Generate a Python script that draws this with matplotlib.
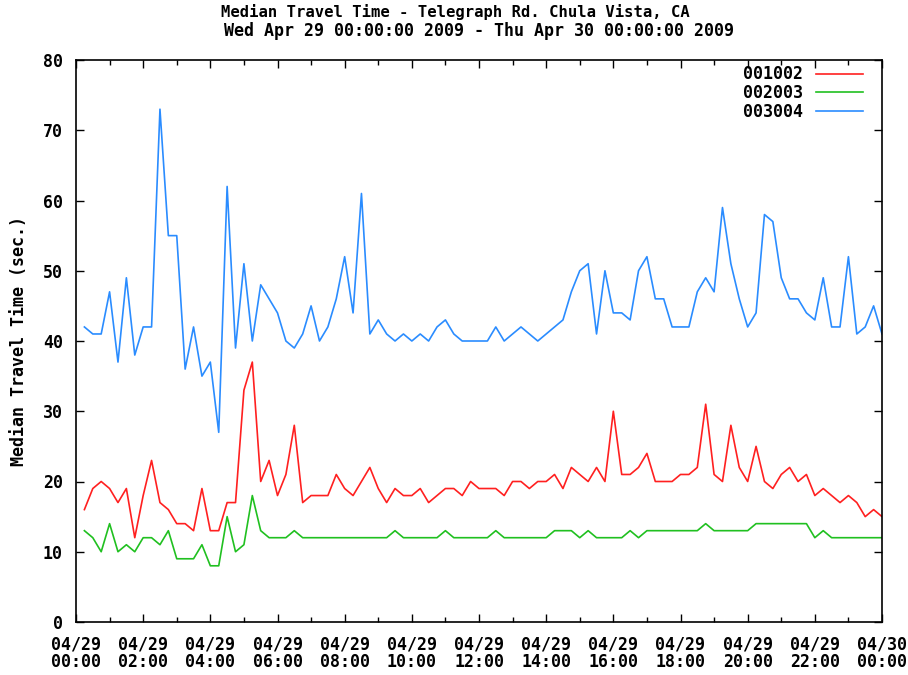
import matplotlib
matplotlib.use("Agg")
import matplotlib.pyplot as plt
import matplotlib.dates as mdates
import pandas as pd

# 15 minute medians for Apr 29, 00:15 .. 24:00
times = pd.date_range("2009-04-29 00:15", periods=96, freq="15min")

seg_001002 = [16, 19, 20, 19, 17, 19, 12, 18, 23, 17, 16, 14, 14, 13, 19, 13,
              13, 17, 17, 33, 37, 20, 23, 18, 21, 28, 17, 18, 18, 18, 21, 19,
              18, 20, 22, 19, 17, 19, 18, 18, 19, 17, 18, 19, 19, 18, 20, 19,
              19, 19, 18, 20, 20, 19, 20, 20, 21, 19, 22, 21, 20, 22, 20, 30,
              21, 21, 22, 24, 20, 20, 20, 21, 21, 22, 31, 21, 20, 28, 22, 20,
              25, 20, 19, 21, 22, 20, 21, 18, 19, 18, 17, 18, 17, 15, 16, 15]

seg_002003 = [13, 12, 10, 14, 10, 11, 10, 12, 12, 11, 13, 9, 9, 9, 11, 8,
              8, 15, 10, 11, 18, 13, 12, 12, 12, 13, 12, 12, 12, 12, 12, 12,
              12, 12, 12, 12, 12, 13, 12, 12, 12, 12, 12, 13, 12, 12, 12, 12,
              12, 13, 12, 12, 12, 12, 12, 12, 13, 13, 13, 12, 13, 12, 12, 12,
              12, 13, 12, 13, 13, 13, 13, 13, 13, 13, 14, 13, 13, 13, 13, 13,
              14, 14, 14, 14, 14, 14, 14, 12, 13, 12, 12, 12, 12, 12, 12, 12]

seg_003004 = [42, 41, 41, 47, 37, 49, 38, 42, 42, 73, 55, 55, 36, 42, 35, 37,
              27, 62, 39, 51, 40, 48, 46, 44, 40, 39, 41, 45, 40, 42, 46, 52,
              44, 61, 41, 43, 41, 40, 41, 40, 41, 40, 42, 43, 41, 40, 40, 40,
              40, 42, 40, 41, 42, 41, 40, 41, 42, 43, 47, 50, 51, 41, 50, 44,
              44, 43, 50, 52, 46, 46, 42, 42, 42, 47, 49, 47, 59, 51, 46, 42,
              44, 58, 57, 49, 46, 46, 44, 43, 49, 42, 42, 52, 41, 42, 45, 41]

series = [("001002", seg_001002, "#ff2020"),
          ("002003", seg_002003, "#20c020"),
          ("003004", seg_003004, "#2a8cff")]

plt.rcParams["font.family"] = ["DejaVu Sans Mono"]
plt.rcParams["font.weight"] = "bold"
plt.rcParams["axes.labelweight"] = "bold"
plt.rcParams["font.size"] = 12

fig = plt.figure(figsize=(9.08, 6.75), dpi=100)
ax = fig.add_axes([76 / 908, 1 - 622 / 675, 806 / 908, 562 / 675])

for name, vals, col in series:
    ax.plot(times, vals, color=col, lw=1.2, label=name)

ax.set_xlim(pd.Timestamp("2009-04-29 00:00"), pd.Timestamp("2009-04-30 00:00"))
ax.set_ylim(0, 80)
ax.set_yticks(range(0, 81, 10))
ax.xaxis.set_major_locator(mdates.HourLocator(interval=2))
ax.xaxis.set_minor_locator(mdates.HourLocator(interval=1))
ax.xaxis.set_major_formatter(mdates.DateFormatter("%m/%d\n%H:%M"))

ax.tick_params(which="both", direction="in", top=True, right=True,
               width=1.0, colors="black")
ax.tick_params(which="major", length=6)
ax.tick_params(which="minor", length=3.5)
ax.tick_params(axis="y", pad=9.5)
ax.tick_params(axis="x", pad=9.5)
for lbl in ax.get_xticklabels():
    lbl.set_linespacing(0.97)
for sp in ax.spines.values():
    sp.set_linewidth(1.2)

ax.set_ylabel("Median Travel Time (sec.)", labelpad=11)

leg = ax.legend(loc="upper right", frameon=False, markerfirst=False,
                handlelength=2.8, labelspacing=0.05, handletextpad=0.8,
                borderaxespad=0.4, bbox_to_anchor=(0.993, 1.014))
for t in leg.get_texts():
    t.set_ha("right")

fig.text(455 / 908, 1 - 12 / 675, "Median Travel Time - Telegraph Rd. Chula Vista, CA",
         ha="center", va="center", fontsize=11.2)
fig.text(479 / 908, 1 - 31 / 675, "Wed Apr 29 00:00:00 2009 - Thu Apr 30 00:00:00 2009",
         ha="center", va="center", fontsize=12)

fig.savefig("out.png", dpi=100)
